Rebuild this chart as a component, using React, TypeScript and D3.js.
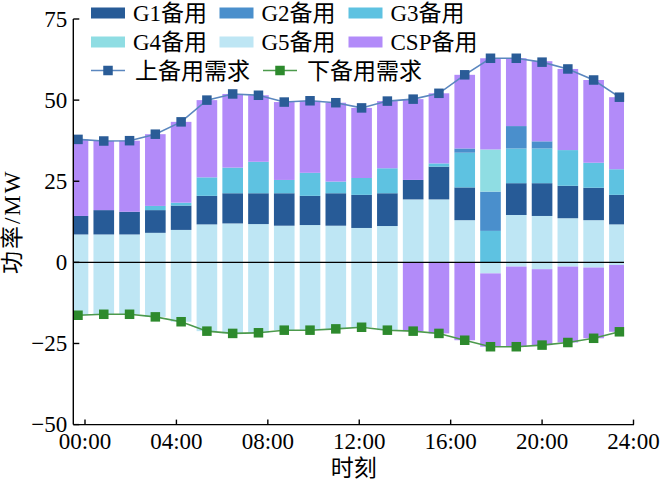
import React, { useMemo } from 'react';
import * as d3 from 'd3';

// reserve demand (MW), one value per dispatch slot
const upDemand = [37.9, 37.4, 37.5, 39.5, 43.3, 50.0, 51.9, 51.5, 49.4, 49.8, 49.2, 47.6, 49.7, 50.3, 52.1, 57.8, 62.9, 62.9, 61.7, 59.6, 56.2, 50.9];
const downDemand = [-16.3, -16.0, -16.0, -16.8, -18.3, -21.2, -21.9, -21.7, -20.9, -20.9, -20.5, -20.0, -20.9, -21.2, -21.9, -24.0, -26.0, -26.0, -25.5, -24.7, -23.4, -21.4];

// up reserve by unit
const g5Up = [8.6, 8.6, 8.6, 9.1, 10.0, 11.7, 12.0, 11.8, 11.3, 11.5, 11.3, 10.6, 11.2, 19.4, 19.4, 13.0, 0, 14.6, 14.3, 13.6, 13.0, 11.7];
const g1Up = [5.7, 7.5, 7.0, 7.0, 7.5, 8.8, 9.3, 9.5, 10.0, 9.0, 10.0, 10.2, 10.1, 6.0, 10.1, 10.1, 0, 9.8, 10.1, 10.0, 10.0, 9.1];
const g3Up = [0, 0, 0, 1.3, 0.9, 5.7, 7.9, 9.7, 4.1, 7.1, 3.6, 5.2, 7.7, 0, 1.0, 10.7, 9.7, 10.7, 10.7, 11.0, 7.7, 7.9];
const g2Up = [0, 0, 0, 0, 0, 0, 0, 0, 0, 0, 0, 0, 0, 0, 0, 1.3, 12.1, 6.9, 2.2, 0, 0, 0];
const g4Up = [0, 0, 0, 0, 0, 0, 0, 0, 0, 0, 0, 0, 0, 0, 0, 0, 13.0, 0, 0, 0, 0, 0];
const cspUp = [23.6, 21.3, 21.9, 22.1, 24.9, 23.8, 22.7, 20.5, 24.0, 22.2, 24.3, 21.6, 20.7, 24.9, 21.6, 22.7, 28.1, 20.9, 24.7, 25.0, 25.5, 22.2];

// down reserve by unit
const g5Down = [-16.3, -16.0, -16.0, -16.8, -18.3, -21.2, -21.9, -21.7, -20.9, -20.9, -20.5, -20.0, -20.9, 0, 0, 0, -3.4, -1.3, -2.1, -1.3, -1.6, -0.8];
const cspDown = [0, 0, 0, 0, 0, 0, 0, 0, 0, 0, 0, 0, 0, -21.2, -21.9, -24.0, -22.6, -24.7, -23.4, -23.4, -21.8, -20.6];

const timeTicks = [0, 4, 8, 12, 16, 20, 24];
const timeLabels = ['00:00', '04:00', '08:00', '12:00', '16:00', '20:00', '24:00'];
const yTicks = [-50, -25, 0, 25, 50, 75];

const COLORS: Record<string, string> = {
  G1: '#275b97',
  G2: '#4a8fcc',
  G3: '#5ec2e1',
  G4: '#8fdde3',
  G5: '#bee6f4',
  CSP: '#b28bf9',
  G5n: '#bee6f4',
  CSPn: '#b28bf9',
};

const UP_LINE = '#5b87bf';
const UP_MARK = '#2a5c97';
const DOWN_LINE = '#4c9a4c';
const DOWN_MARK = '#2d8a2d';

const FONT = '"Liberation Serif", "Times New Roman", "Noto Sans CJK SC", serif';

const PLOT = { left: 73.3, right: 634, barRight: 624, top: 19, bottom: 424.6 };

const App: React.FC = () => {
  const slots = useMemo(() => upDemand.map((_, i) => i), []);

  const table = useMemo(
    () =>
      slots.map(i => ({
        slot: i,
        G5: g5Up[i],
        G1: g1Up[i],
        G3: g3Up[i],
        G2: g2Up[i],
        G4: g4Up[i],
        CSP: cspUp[i],
        G5n: g5Down[i],
        CSPn: cspDown[i],
      })),
    [slots]
  );

  const scales = useMemo(() => {
    const y = d3.scaleLinear().domain([-50, 75]).range([PLOT.bottom, PLOT.top]);
    const xTime = d3.scaleLinear().domain([0, 24]).range([85, 633.5]);
    const xBar = d3
      .scaleBand<number>()
      .domain(slots)
      .range([65.1, 632.3])
      .paddingInner(0.2)
      .paddingOuter(0.1);
    return { y, xTime, xBar };
  }, [slots]);

  const series = useMemo(() => {
    const stack = d3
      .stack<any>()
      .keys(['G5', 'G1', 'G3', 'G2', 'G4', 'CSP', 'G5n', 'CSPn'])
      .offset(d3.stackOffsetDiverging);
    return stack(table);
  }, [table]);

  const cx = (i: number) => (scales.xBar(i) || 0) + scales.xBar.bandwidth() / 2;

  const upLine = d3
    .line<number>()
    .x((_, i) => cx(i))
    .y(d => scales.y(d));

  const legendBars = [
    { key: 'G1', label: 'G1备用', x: 91, y: 13 },
    { key: 'G2', label: 'G2备用', x: 219.5, y: 13 },
    { key: 'G3', label: 'G3备用', x: 348.5, y: 13 },
    { key: 'G4', label: 'G4备用', x: 91, y: 42 },
    { key: 'G5', label: 'G5备用', x: 219.5, y: 42 },
    { key: 'CSP', label: 'CSP备用', x: 348.5, y: 42 },
  ];
  const legendLines = [
    { label: '上备用需求', x: 91, y: 70.5, line: UP_LINE, mark: UP_MARK },
    { label: '下备用需求', x: 263, y: 70.5, line: DOWN_LINE, mark: DOWN_MARK },
  ];

  const markSize = 9.5;

  return (
    <svg
      width={664}
      height={482}
      style={{ position: 'absolute', left: 0, top: 0, background: '#fff' }}
      fontFamily={FONT}
    >
      <defs>
        <clipPath id="plot-clip">
          <rect
            x={PLOT.left}
            y={PLOT.top}
            width={PLOT.barRight - PLOT.left}
            height={PLOT.bottom - PLOT.top}
          />
        </clipPath>
      </defs>

      {/* stacked reserve bars */}
      <g clipPath="url(#plot-clip)">
        {series.map(s => (
          <g key={s.key} fill={COLORS[s.key]}>
            {s.map((d, i) => {
              const h = Math.abs(scales.y(d[0]) - scales.y(d[1]));
              if (h < 0.01) return null;
              return (
                <rect
                  key={i}
                  x={scales.xBar(i)}
                  y={Math.min(scales.y(d[0]), scales.y(d[1]))}
                  width={scales.xBar.bandwidth()}
                  height={h}
                />
              );
            })}
          </g>
        ))}
      </g>

      {/* zero line */}
      <line
        x1={PLOT.left}
        x2={PLOT.barRight}
        y1={scales.y(0)}
        y2={scales.y(0)}
        stroke="#000"
        strokeWidth={1.4}
      />

      {/* demand lines */}
      <path d={upLine(upDemand) || ''} fill="none" stroke={UP_LINE} strokeWidth={1.6} />
      <path d={upLine(downDemand) || ''} fill="none" stroke={DOWN_LINE} strokeWidth={1.6} />
      {upDemand.map((v, i) => (
        <rect
          key={`up-${i}`}
          x={cx(i) - markSize / 2}
          y={scales.y(v) - markSize / 2}
          width={markSize}
          height={markSize}
          fill={UP_MARK}
        />
      ))}
      {downDemand.map((v, i) => (
        <rect
          key={`dn-${i}`}
          x={cx(i) - markSize / 2}
          y={scales.y(v) - markSize / 2}
          width={markSize}
          height={markSize}
          fill={DOWN_MARK}
        />
      ))}

      {/* y axis */}
      <g>
        <line x1={PLOT.left} x2={PLOT.left} y1={PLOT.top} y2={PLOT.bottom} stroke="#000" strokeWidth={1.4} />
        {yTicks.map(t => (
          <g key={`y-${t}`} transform={`translate(${PLOT.left}, ${scales.y(t)})`}>
            <line x2={6} stroke="#000" strokeWidth={1.4} />
            <text x={-6} dy="0.34em" textAnchor="end" fontSize="23px" fill="#000">
              {t < 0 ? `\u2212${Math.abs(t)}` : t}
            </text>
          </g>
        ))}
        <text
          transform={`translate(20, ${scales.y(12.5)}) rotate(-90)`}
          textAnchor="middle"
          fontSize="23px"
          letterSpacing="2px"
          fill="#000"
        >
          功率/MW
        </text>
      </g>

      {/* x axis */}
      <g transform={`translate(0, ${PLOT.bottom})`}>
        <line x1={PLOT.left} x2={PLOT.right} stroke="#000" strokeWidth={1.4} />
        {timeTicks.map((t, i) => (
          <g key={`x-${t}`} transform={`translate(${scales.xTime(t)}, 0)`}>
            <line y2={-5} stroke="#000" strokeWidth={1.4} />
            <text y={24} textAnchor="middle" fontSize="23px" fill="#000">
              {timeLabels[i]}
            </text>
          </g>
        ))}
        <text x={(PLOT.left + PLOT.right) / 2} y={51} textAnchor="middle" fontSize="23px" fill="#000">
          时刻
        </text>
      </g>

      {/* legend */}
      <g fontSize="23px" fill="#000">
        {legendBars.map(l => (
          <g key={l.key} transform={`translate(${l.x}, ${l.y})`}>
            <rect x={0} y={-5.5} width={34} height={11} fill={COLORS[l.key]} />
            <text x={42} dy="0.36em">
              {l.label}
            </text>
          </g>
        ))}
        {legendLines.map(l => (
          <g key={l.label} transform={`translate(${l.x}, ${l.y})`}>
            <line x1={0} x2={34} stroke={l.line} strokeWidth={1.6} />
            <rect x={17 - markSize / 2} y={-markSize / 2} width={markSize} height={markSize} fill={l.mark} />
            <text x={44} dy="0.36em">
              {l.label}
            </text>
          </g>
        ))}
      </g>
    </svg>
  );
};

export default App;
